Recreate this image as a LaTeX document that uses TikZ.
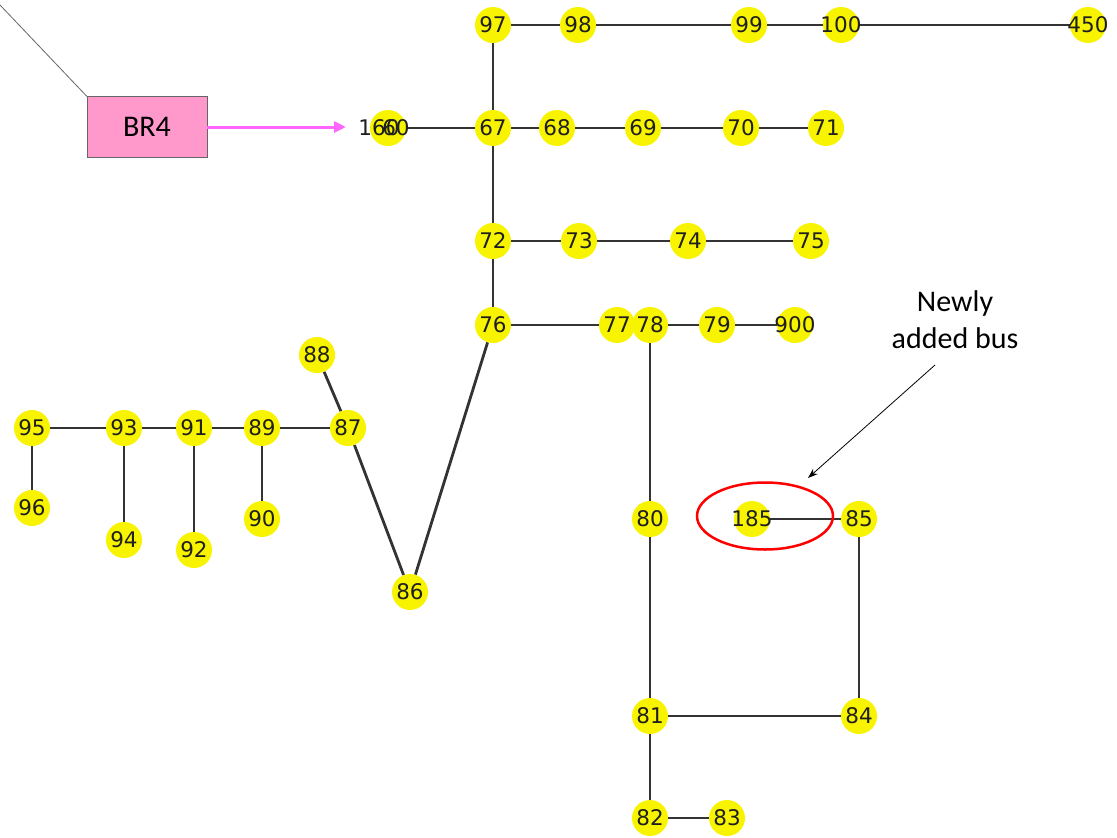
\documentclass[tikz,border=0pt]{standalone}
\usepackage{fontspec}
\newfontfamily\dvsfont{DejaVu Sans}
\newfontfamily\calibfont{Carlito}
\usetikzlibrary{shapes.geometric,arrows.meta,backgrounds}
\definecolor{busyellow}{HTML}{F8F400}
\definecolor{edgegray}{HTML}{333333}
\definecolor{brpink}{HTML}{FF99CC}
\definecolor{brmag}{HTML}{FF66FF}
\tikzset{
  bustext/.style={inner sep=0pt,font=\dvsfont\fontsize{21.5}{21.5}\selectfont,text=black!88},
  busdot/.style={circle,fill=busyellow,minimum size=36pt,inner sep=0pt},
  bus/.style={busdot,label={[bustext]center:#1}},
  wire/.style={draw=edgegray,line width=2.8pt},
  callout/.style={font=\calibfont\fontsize{30}{37}\selectfont,align=center},
}
\begin{document}
\begin{tikzpicture}[x=1pt,y=-1pt]
\useasboundingbox (0,0) rectangle (1117,838);
% buses
\node[bus=97] (n97) at (493,25) {};
\node[bus=98] (n98) at (578,25) {};
\node[bus=99] (n99) at (749,25) {};
\node[bus=100] (n100) at (841,25) {};
\node[bus=450] (n450) at (1088,25) {};
\node[busdot] (n60) at (388,128) {};
\node[bustext] (n160) at (379,128) {160};
\node[bustext] (n60t) at (396,128) {60};
\node[bus=67] (n67) at (493,128) {};
\node[bus=68] (n68) at (557,128) {};
\node[bus=69] (n69) at (643,128) {};
\node[bus=70] (n70) at (741,128) {};
\node[bus=71] (n71) at (826,128) {};
\node[bus=72] (n72) at (493,241) {};
\node[bus=73] (n73) at (579,241) {};
\node[bus=74] (n74) at (688,241) {};
\node[bus=75] (n75) at (811,241) {};
\node[bus=76] (n76) at (493,325) {};
\node[bus=77] (n77) at (617,325) {};
\node[bus=78] (n78) at (650,325) {};
\node[bus=79] (n79) at (717,325) {};
\node[bus=900] (n900) at (795,325) {};
\node[bus=88] (n88) at (317,355) {};
\node[bus=87] (n87) at (348,428) {};
\node[bus=95] (n95) at (32,428) {};
\node[bus=93] (n93) at (124,428) {};
\node[bus=91] (n91) at (194,428) {};
\node[bus=89] (n89) at (262,428) {};
\node[bus=96] (n96) at (32,508) {};
\node[bus=94] (n94) at (124,540) {};
\node[bus=92] (n92) at (194,550) {};
\node[bus=90] (n90) at (262,519) {};
\node[bus=86] (n86) at (410,592) {};
\node[bus=80] (n80) at (650,519) {};
\node[bus=81] (n81) at (650,716) {};
\node[bus=82] (n82) at (650,818) {};
\node[bus=83] (n83) at (727,818) {};
\node[bus=185] (n185) at (752,519) {};
\node[bus=85] (n85) at (859,519) {};
\node[bus=84] (n84) at (859,716) {};
% edges
\begin{scope}[on background layer]
\draw[wire] (n97) -- (n98) -- (n99) -- (n100) -- (n450);
\draw[wire] (n97) -- (n67);
\draw[wire] (n60) -- (n67) -- (n68) -- (n69) -- (n70) -- (n71);
\draw[wire] (n67) -- (n72) -- (n76);
\draw[wire] (n72) -- (n73) -- (n74) -- (n75);
\draw[wire] (n76) -- (n77);
\draw[wire] (n78) -- (n79) -- (n900);
\draw[wire] (n78) -- (n80) -- (n81) -- (n82) -- (n83);
\draw[wire] (n81) -- (n84) -- (n85) -- (n185);
\draw[wire] (n76) -- (n86) -- (n87) -- (n88);
\draw[wire] (n87) -- (n89) -- (n91) -- (n93) -- (n95);
\draw[wire] (n95) -- (n96);
\draw[wire] (n93) -- (n94);
\draw[wire] (n91) -- (n92);
\draw[wire] (n89) -- (n90);
\end{scope}
% BR4 annotation
\node[draw=black!60,fill=brpink,minimum width=120pt,minimum height=61pt,inner sep=0pt,font=\calibfont\fontsize{30}{30}\selectfont] (br4) at (147,127) {BR4};
\coordinate (corner) at (0,5);
\coordinate (br4tip) at (346,127);
\draw[black!60,line width=0.8pt] (corner) -- (br4.north west);
\draw[brmag,line width=3pt,-{Triangle[length=12pt,width=11pt]}] (br4.east) -- (br4tip);
% newly added bus annotation
\node[draw=red,line width=2.5pt,ellipse,minimum width=136pt,minimum height=67pt] (newell) at (765,516) {};
\node[callout] (newtxt) at (955,320) {Newly\\added bus};
\coordinate (ntail) at (935,365);
\coordinate (nhead) at (808,478);
\draw[black,line width=0.8pt,-{Stealth[length=10pt,width=7pt]}] (ntail) -- (nhead);
\end{tikzpicture}
\end{document}
